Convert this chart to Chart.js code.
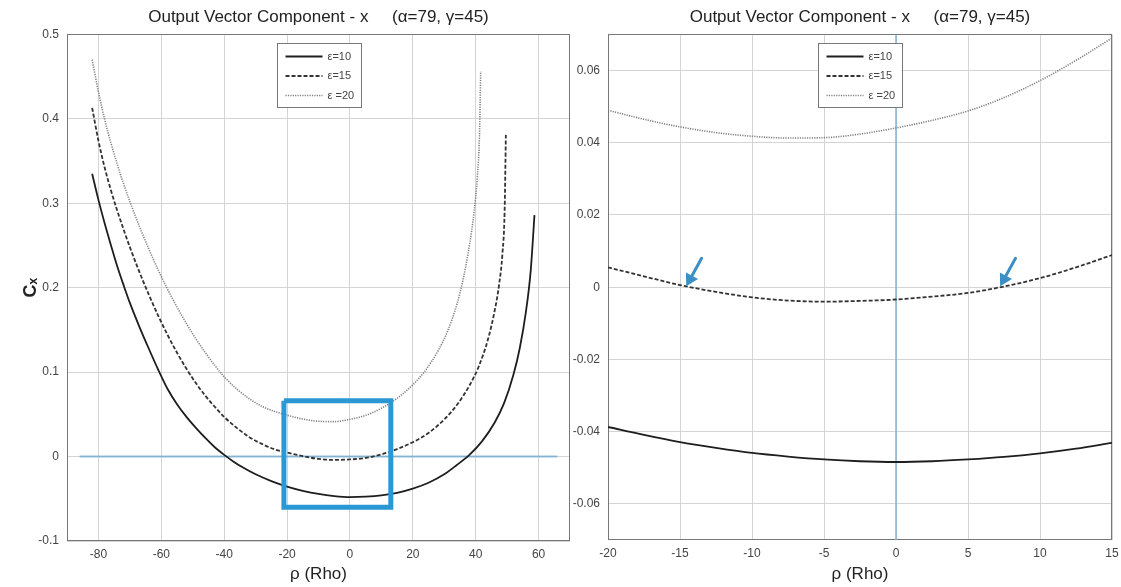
<!DOCTYPE html>
<html>
<head>
<meta charset="utf-8">
<script src="https://cdn.jsdelivr.net/npm/chart.js@4.4.0/dist/chart.umd.min.js"></script>
<style>
  body { margin: 0; background: #fff; }
  canvas { position: absolute; top: 0; }
  #left-chart { left: 0; }
  #right-chart { left: 560px; }
</style>
</head>
<body>
<canvas id="left-chart" width="580" height="587"></canvas>
<canvas id="right-chart" width="561" height="587"></canvas>
<script>
const chartTitle = "Output Vector Component - x     (\u03b1=79, \u03b3=45)";
const seriesLabels = ["\u03b5=10", "\u03b5=15", "\u03b5 =20"];

// full range view
const leftRho10 = [-82, -80, -78, -76, -74, -72, -70, -67, -64, -61, -58, -55, -52, -49, -46, -43, -40, -37, -34, -30, -25, -20, -15, -10, -5, 0, 5, 10, 15, 20, 25, 30, 34, 38, 42, 46, 49, 52, 54, 56, 57.5, 58.7];
const leftCx10 = [0.335, 0.304, 0.276, 0.25, 0.225, 0.203, 0.182, 0.154, 0.128, 0.103, 0.08, 0.062, 0.047, 0.034, 0.022, 0.011, 0.002, -0.006, -0.013, -0.021, -0.029, -0.0355, -0.0405, -0.0443, -0.0468, -0.048, -0.0475, -0.046, -0.043, -0.038, -0.031, -0.021, -0.01, 0.002, 0.018, 0.04, 0.063, 0.097, 0.128, 0.172, 0.22, 0.286];

const leftRho15 = [-82, -80, -78, -76, -74, -72, -70, -67, -64, -61, -58, -55, -52, -49, -46, -43, -40, -36, -32, -28, -24, -20, -15, -10, -5, 0, 5, 10, 15, 20, 25, 30, 34, 38, 41, 44, 46, 47.5, 48.5, 49.2, 49.6];
const leftCx15 = [0.413, 0.374, 0.342, 0.315, 0.291, 0.269, 0.248, 0.219, 0.192, 0.167, 0.144, 0.123, 0.104, 0.087, 0.072, 0.059, 0.047, 0.034, 0.023, 0.015, 0.0086, 0.0048, 0.0006, -0.0028, -0.004, -0.0034, -0.0016, 0.0025, 0.0089, 0.017, 0.028, 0.044, 0.061, 0.084, 0.107, 0.14, 0.172, 0.205, 0.24, 0.29, 0.381];

const leftRho20 = [-82, -80, -78, -76, -74, -72, -70, -67, -64, -61, -58, -55, -52, -49, -46, -43, -40, -36, -32, -28, -24, -20, -15, -10, -5, 0, 5, 10, 15, 20, 24, 28, 31, 34, 36, 38, 39.5, 40.5, 41.2, 41.6];
const leftCx20 = [0.47, 0.432, 0.399, 0.371, 0.346, 0.323, 0.302, 0.273, 0.246, 0.221, 0.198, 0.177, 0.1575, 0.1395, 0.123, 0.108, 0.0945, 0.08, 0.0685, 0.0595, 0.0535, 0.049, 0.0444, 0.0418, 0.0414, 0.0441, 0.0488, 0.0572, 0.069, 0.085, 0.102, 0.125, 0.148, 0.18, 0.21, 0.25, 0.29, 0.33, 0.38, 0.456];

const leftXTicks = [-80, -60, -40, -20, 0, 20, 40, 60];
const leftYTicks = [-0.1, 0, 0.1, 0.2, 0.3, 0.4, 0.5];

// zoomed view
const rightRho = [-20, -17.5, -15, -12.5, -10, -7.5, -5, -2.5, 0, 2.5, 5, 7.5, 10, 12.5, 15];
const rightCx10 = [-0.0387, -0.0409, -0.0429, -0.0445, -0.0459, -0.0469, -0.0477, -0.0482, -0.0484, -0.0482, -0.0477, -0.047, -0.046, -0.0447, -0.0431];
const rightCx15 = [0.0055, 0.003, 0.0006, -0.0013, -0.0028, -0.0037, -0.004, -0.0038, -0.0034, -0.0026, -0.0016, 0.0002, 0.0025, 0.0055, 0.0089];
const rightCx20 = [0.049, 0.0465, 0.0444, 0.0428, 0.0418, 0.0413, 0.0414, 0.0424, 0.0441, 0.0462, 0.0488, 0.0525, 0.0572, 0.0628, 0.069];

const rightXTicks = [-20, -15, -10, -5, 0, 5, 10, 15];
const rightYTicks = [-0.06, -0.04, -0.02, 0, 0.02, 0.04, 0.06];

// blue annotations
const zeroLineRho = [-86, 66];
const zeroLineCx = [0, 0];
const boxRho = [-21, 13, 13, -21, -21];
const boxCx = [0.066, 0.066, -0.06, -0.06, 0.066];
const axisLineRho = [0, 0];
const axisLineCx = [-0.07, 0.07];
const arrowLeftRho = [-13.5, -14.3];
const arrowLeftCx = [0.008, 0.0022];
const arrowRightRho = [8.3, 7.5];
const arrowRightCx = [0.008, 0.0022];

Chart.defaults.font.family = "'Liberation Sans', Arial, sans-serif";

const styles = [
  { color: "#1e1e1e", width: 1.8, dash: [] },
  { color: "#333333", width: 1.8, dash: [4, 2] },
  { color: "#808080", width: 1.6, dash: [1.2, 1.2] },
];

const pts = (xs, ys) => xs.map((x, i) => ({ x: x, y: ys[i] }));
const fmt = (v) => String(Number(v.toFixed(3)));

function curve(i, xs, ys) {
  return {
    label: seriesLabels[i],
    inLegend: true,
    data: pts(xs, ys),
    borderColor: styles[i].color,
    borderWidth: styles[i].width,
    borderDash: styles[i].dash,
    pointRadius: 0,
    cubicInterpolationMode: "monotone",
    fill: false,
  };
}

function mark(xs, ys, color, width, extra = {}) {
  return Object.assign(
    {
      data: pts(xs, ys),
      borderColor: color,
      backgroundColor: color,
      borderWidth: width,
      pointRadius: 0,
      tension: 0,
      fill: false,
    },
    extra
  );
}

function arrow(xs, ys) {
  return mark(xs, ys, "#3b8fc4", 3, {
    pointRadius: [0, 5],
    pointStyle: "triangle",
    rotation: 209,
    borderCapStyle: "round",
  });
}

const plotFrame = {
  id: "plotFrame",
  beforeDatasetsDraw(chart) {
    const { ctx, chartArea } = chart;
    ctx.save();
    ctx.strokeStyle = "#777";
    ctx.lineWidth = 1;
    ctx.strokeRect(
      Math.round(chartArea.left) + 0.5,
      Math.round(chartArea.top) + 0.5,
      Math.round(chartArea.width) - 1,
      Math.round(chartArea.height) - 1
    );
    ctx.restore();
  },
};

const legendBox = {
  id: "legendBox",
  afterDatasetsDraw(chart) {
    const { ctx, chartArea } = chart;
    const items = chart.data.datasets.filter((ds) => ds.inLegend);
    const w = 84;
    const h = 64;
    const left = Math.round((chartArea.left + chartArea.right) / 2 - w / 2) + 0.5;
    const top = Math.round(chartArea.top + 9) + 0.5;
    ctx.save();
    ctx.fillStyle = "#fff";
    ctx.fillRect(left, top, w, h);
    ctx.strokeStyle = "#777";
    ctx.lineWidth = 1;
    ctx.strokeRect(left, top, w, h);
    items.forEach((ds, i) => {
      const y = top + 13 + i * 19.5;
      ctx.strokeStyle = ds.borderColor;
      ctx.lineWidth = ds.borderWidth;
      ctx.setLineDash(ds.borderDash);
      ctx.beginPath();
      ctx.moveTo(left + 8, y);
      ctx.lineTo(left + 45, y);
      ctx.stroke();
      ctx.setLineDash([]);
      ctx.fillStyle = "#444";
      ctx.font = "11px 'Liberation Sans', Arial";
      ctx.textBaseline = "middle";
      ctx.fillText(ds.label, left + 50, y);
    });
    ctx.restore();
  },
};

function axisTicks(values) {
  return (scale) => {
    scale.ticks = values.map((v) => ({ value: v }));
  };
}

function renderChart(id, opts) {
  return new Chart(document.getElementById(id), {
    type: "line",
    data: { datasets: opts.datasets },
    options: {
      responsive: false,
      animation: false,
      events: [],
      layout: { padding: { right: opts.padRight } },
      plugins: {
        legend: { display: false },
        tooltip: { enabled: false },
        title: {
          display: true,
          text: chartTitle,
          fullSize: false,
          color: "#222",
          font: { size: 17, weight: "normal" },
          padding: { top: 7, bottom: 7 },
        },
      },
      scales: {
        x: {
          type: "linear",
          min: opts.xMin,
          max: opts.xMax,
          afterBuildTicks: axisTicks(opts.xTicks),
          afterFit: (s) => {
            s.height = opts.xHeight;
            // edge labels may hang outside the plot, like the original
            s.paddingLeft = 0;
            s.paddingRight = 0;
          },
          grid: { color: "#d4d4d4", drawTicks: false },
          border: { display: false },
          ticks: {
            autoSkip: false,
            maxRotation: 0,
            padding: 6,
            color: "#444",
            font: { size: 12 },
            callback: fmt,
          },
          title: {
            display: true,
            text: "\u03c1 (Rho)",
            color: "#222",
            font: { size: 17 },
            padding: { top: 0, bottom: 2 },
          },
        },
        y: {
          type: "linear",
          min: opts.yMin,
          max: opts.yMax,
          afterBuildTicks: axisTicks(opts.yTicks),
          afterFit: (s) => {
            s.width = opts.yWidth;
          },
          grid: { color: "#d4d4d4", drawTicks: false },
          border: { display: false },
          ticks: {
            autoSkip: false,
            padding: 8,
            color: "#444",
            font: { size: 12 },
            callback: fmt,
          },
          title: {
            display: opts.yTitle !== "",
            text: opts.yTitle,
            color: "#222",
            font: { size: 18, weight: "bold" },
            padding: { top: 20, bottom: 0 },
          },
        },
      },
    },
    plugins: [plotFrame, legendBox],
  });
}

renderChart("left-chart", {
  datasets: [
    mark(boxRho, boxCx, "#2a98d4", 5, { borderJoinStyle: "miter" }),
    curve(0, leftRho10, leftCx10),
    curve(1, leftRho15, leftCx15),
    curve(2, leftRho20, leftCx20),
    mark(zeroLineRho, zeroLineCx, "rgba(90,160,205,0.65)", 2),
  ],
  xMin: -90,
  xMax: 70,
  yMin: -0.1,
  yMax: 0.5,
  xTicks: leftXTicks,
  yTicks: leftYTicks,
  yWidth: 67,
  xHeight: 46,
  padRight: 10,
  yTitle: "C\u2093",
});

renderChart("right-chart", {
  datasets: [
    arrow(arrowLeftRho, arrowLeftCx),
    arrow(arrowRightRho, arrowRightCx),
    curve(0, rightRho, rightCx10),
    curve(1, rightRho, rightCx15),
    curve(2, rightRho, rightCx20),
    mark(axisLineRho, axisLineCx, "#7fb4d8", 1.5),
  ],
  xMin: -20,
  xMax: 15,
  yMin: -0.07,
  yMax: 0.07,
  xTicks: rightXTicks,
  yTicks: rightYTicks,
  yWidth: 48,
  xHeight: 47,
  padRight: 9,
  yTitle: "",
});
</script>
</body>
</html>
